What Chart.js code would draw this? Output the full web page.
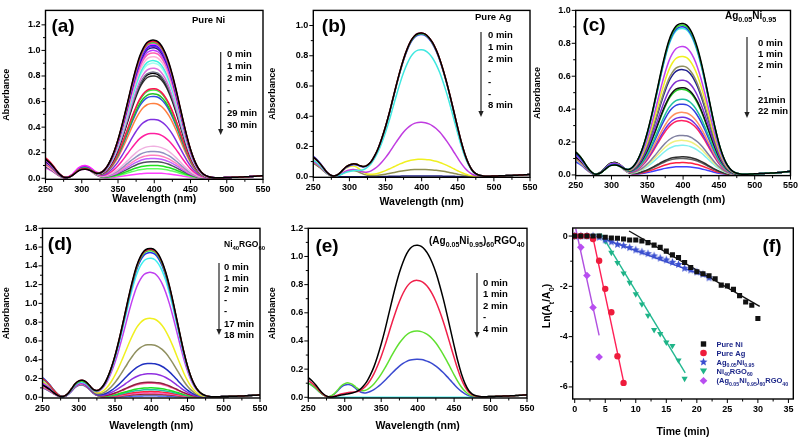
<!DOCTYPE html>
<html><head><meta charset="utf-8">
<script src="https://cdn.jsdelivr.net/npm/chart.js@4.4.1/dist/chart.umd.min.js"></script>
<style>
html,body{margin:0;padding:0;background:#fff;}
#wrap{position:relative;width:803px;height:440px;overflow:hidden;background:#fff;}
#wrap canvas{position:absolute;left:0;top:0;}
</style></head><body><div id="wrap">
<canvas id="ca" width="803" height="440"></canvas>
<canvas id="cb" width="803" height="440"></canvas>
<canvas id="cc" width="803" height="440"></canvas>
<canvas id="cd" width="803" height="440"></canvas>
<canvas id="ce" width="803" height="440"></canvas>
<canvas id="cf" width="803" height="440"></canvas>
</div>
<script>
// ---------------- data ----------------
const wavelengths = [250,255,260,265,270,275,280,285,290,295,300,305,310,315,320,325,330,335,340,345,350,355,360,365,370,375,380,385,390,395,400,405,410,415,420,425,430,435,440,445,450,455,460,465,470,475,480,485,490,495,500,505,510,515,520,525,530,535,540,545,550];
// normalized 400 nm band
const bandNarrow = [0,0,0,0,0,0,0,0,0,0,0,0,0.003,0.008,0.015,0.028,0.05,0.085,0.135,0.2,0.28,0.375,0.48,0.59,0.7,0.8,0.885,0.945,0.983,0.998,1.0,0.99,0.96,0.91,0.84,0.75,0.645,0.53,0.415,0.305,0.21,0.135,0.08,0.044,0.022,0.01,0.004,0.001,0,0,0,0,0,0,0,0,0,0,0,0,0];
const bandWide = [0,0,0,0,0,0,0,0,0,0,0,0.005,0.012,0.024,0.042,0.068,0.1,0.145,0.2,0.27,0.35,0.44,0.54,0.64,0.735,0.82,0.89,0.945,0.98,0.997,1.0,0.992,0.97,0.935,0.885,0.82,0.74,0.65,0.55,0.445,0.34,0.24,0.155,0.09,0.045,0.02,0.008,0.003,0,0,0,0,0,0,0,0,0,0,0,0,0];
const edgeShape = [1,0.84,0.64,0.4,0.19,0.06,0.01,0,0,0,0,0,0,0,0,0,0,0,0,0,0,0,0,0,0,0,0,0,0,0,0,0,0,0,0,0,0,0,0,0,0,0,0,0,0,0,0,0,0,0,0,0,0,0,0,0,0,0,0,0,0];
const bumpShape = [0,0,0,0,0,0,0.06,0.22,0.5,0.8,0.97,1.0,0.88,0.62,0.34,0.15,0.06,0.02,0.005,0,0,0,0,0,0,0,0,0,0,0,0,0,0,0,0,0,0,0,0,0,0,0,0,0,0,0,0,0,0,0,0,0,0,0,0,0,0,0,0,0,0];
const tailShape = [0,0,0,0,0,0,0,0,0,0,0,0,0,0,0,0,0,0,0,0,0,0,0,0,0,0,0,0,0,0,0,0,0,0,0,0,0,0,0,0,0,0,0,0,0,0.05,0.1,0.15,0.2,0.25,0.3,0.35,0.4,0.45,0.5,0.55,0.62,0.7,0.8,0.9,1.0];

// (a) Pure Ni, 0..30 min
const peaksA = [1.08,1.07,1.06,1.05,1.04,1.03,1.02,1.0,0.98,0.95,0.92,0.9,0.86,0.83,0.82,0.8,0.7,0.69,0.66,0.64,0.585,0.46,0.35,0.25,0.21,0.18,0.155,0.13,0.1,0.075,0.04];
const edgeA = [0.15,0.16,0.15,0.14,0.15,0.14,0.13,0.15,0.14,0.13,0.14,0.13,0.12,0.15,0.13,0.14,0.12,0.13,0.12,0.12,0.11,0.12,0.11,0.1,0.11,0.1,0.1,0.09,0.1,0.09,0.08];
const bumpA = [0.07,0.075,0.08,0.1,0.08,0.09,0.075,0.085,0.08,0.08,0.085,0.08,0.09,0.075,0.08,0.08,0.085,0.09,0.085,0.09,0.08,0.085,0.09,0.09,0.085,0.08,0.09,0.085,0.08,0.075,0.07];
const colorsA = ['#000000','#ff1040','#30e030','#ff20ff','#2020ff','#8020d0','#101080','#c040ff','#ff60b0','#ffb0d8','#40f0e0','#a0fff0','#e070e0','#707088','#000000','#303030','#ff1050','#40e840','#20c020','#3050e0','#ff8040','#8030e0','#ff20a0','#f0b0e0','#9090c0','#ff80c0','#c060ff','#505060','#20e020','#60ff60','#ff40ff'];
const tailA = 0.02;

// (b) Pure Ag, 0..8 min
const peaksB = [0.95,0.95,0.945,0.94,0.84,0.36,0.115,0.048,0.005];
const edgeB = [0.13,0.13,0.13,0.135,0.11,0.1,0.1,0.09,0.09];
const bumpB = [0.08,0.08,0.08,0.075,0.035,0.045,0.07,0.04,0.0];
const colorsB = ['#000000','#ff1040','#30e030','#2020ff','#40e8e0','#c03ce0','#f0f020','#909050','#202080'];
const tailB = 0.015;

// (c) Ag0.05Ni0.95, 0..22 min
const peaksC = [0.92,0.91,0.9,0.89,0.78,0.72,0.66,0.64,0.575,0.53,0.52,0.46,0.43,0.38,0.35,0.33,0.24,0.21,0.18,0.11,0.1,0.075,0.05];
const edgeC = [0.14,0.14,0.13,0.13,0.12,0.13,0.12,0.12,0.12,0.11,0.12,0.11,0.11,0.1,0.11,0.1,0.1,0.1,0.09,0.1,0.09,0.09,0.08];
const bumpC = [0.06,0.06,0.065,0.06,0.07,0.07,0.065,0.07,0.07,0.075,0.07,0.075,0.07,0.075,0.07,0.07,0.07,0.065,0.07,0.075,0.07,0.07,0.065];
const colorsC = ['#000000','#30e030','#2030f0','#40f0e0','#c040f0','#f0f020','#909060','#202090','#8030d0','#101010','#20d020','#20c0a0','#3040e0','#ff9060','#7030e0','#ff2060','#8080a0','#f0f080','#80f0f0','#303030','#606060','#ff2040','#4040ff'];
const tailC = 0.022;

// (d) Ni40RGO60, 0..18 min
const peaksD = [1.585,1.575,1.56,1.54,1.48,1.33,0.84,0.56,0.36,0.25,0.16,0.15,0.1,0.08,0.06,0.045,0.035,0.025,0.015];
const edgeD = [0.13,0.2,0.2,0.21,0.19,0.15,0.17,0.16,0.14,0.15,0.13,0.12,0.13,0.12,0.12,0.11,0.11,0.1,0.1];
const bumpD = [0.18,0.18,0.17,0.17,0.16,0.15,0.17,0.16,0.15,0.15,0.15,0.14,0.15,0.14,0.14,0.15,0.14,0.13,0.13];
const colorsD = ['#000000','#e02040','#30e030','#2030f0','#40f0f0','#c040f0','#f0f020','#909060','#2030c0','#9030e0','#902040','#ff60a0','#20e020','#20c0a0','#ff2040','#ff60c0','#a02020','#8080a0','#3050ff'];
const tailD = 0.025;

// (e) (Ag0.05Ni0.95)60RGO40, 0..4 min
const peaksE = [1.08,0.83,0.47,0.27,0.0];
const edgeE = [0.14,0.12,0.1,0.1,0.1];
const bumpE = [0.02,0.03,0.1,0.09,0.0];
const colorsE = ['#000000','#f0204a','#60e030','#3a4ad0','#40f0f0'];
const tailE = 0.018;

// tick values
const wlTicks = [250,300,350,400,450,500,550];
const wlMinor = [275,325,375,425,475,525];
const yTicksA = [0,0.2,0.4,0.6,0.8,1.0,1.2];
const yMinorA = [0.1,0.3,0.5,0.7,0.9,1.1];
const yTicksB = [0,0.2,0.4,0.6,0.8,1.0];
const yMinorB = [0.1,0.3,0.5,0.7,0.9];
const yTicksD = [0,0.2,0.4,0.6,0.8,1.0,1.2,1.4,1.6,1.8];
const yMinorD = [0.1,0.3,0.5,0.7,0.9,1.1,1.3,1.5,1.7];

// (f) kinetics ln(At/A0) vs time
const timeNi = [0,1,2,3,4,5,6,7,8,9,10,11,12,13,14,15,16,17,18,19,20,21,22,23,24,25,26,27,28,29,30];
const lnNi = [0,0,0,0,0,-0.05,-0.08,-0.09,-0.12,-0.16,-0.16,-0.2,-0.26,-0.36,-0.45,-0.6,-0.75,-0.85,-1.05,-1.25,-1.42,-1.5,-1.58,-1.7,-1.95,-1.98,-2.12,-2.37,-2.62,-2.75,-3.28];
const timeAg = [0,1,2,3,4,5,6,7,8];
const lnAg = [0,0,0,-0.12,-0.98,-2.1,-3.03,-4.78,-5.84];
const timeAgNi = [0,1,2,3,4,5,6,7,8,9,10,11,12,13,14,15,16,17,18,19,20,21,22];
const lnAgNi = [0,0,0,0,-0.05,-0.15,-0.23,-0.33,-0.38,-0.46,-0.55,-0.63,-0.7,-0.79,-0.88,-0.95,-1.04,-1.13,-1.28,-1.35,-1.43,-1.52,-1.66];
const timeNiRgo = [0,1,2,3,4,5,6,7,8,9,10,11,12,13,14,15,16,17,18];
const lnNiRgo = [0,0,0,0,0.02,-0.2,-0.66,-1.06,-1.48,-1.85,-2.31,-2.71,-3.16,-3.73,-3.89,-4.23,-4.36,-4.94,-5.67];
const timeAgNiRgo = [0,1,2,3,4];
const lnAgNiRgo = [0,-0.45,-1.57,-2.84,-4.81];
// linear fits (end points)
const fitNiT = [8.9,30.3], fitNiY = [0.2,-2.8];
const fitAgT = [2.9,8.1], fitAgY = [0.04,-5.9];
const fitAgNiT = [4.5,22.4], fitAgNiY = [-0.09,-1.68];
const fitNiRgoT = [4.3,18.1], fitNiRgoY = [0.1,-5.44];
const fitAgNiRgoT = [0.16,4.0], fitAgNiRgoY = [0.3,-3.95];
const timeTicks = [0,5,10,15,20,25,30,35];
const timeMinor = [2.5,7.5,12.5,17.5,22.5,27.5,32.5];
const lnTicks = [-6,-4,-2,0];
const lnMinor = [-5,-3,-1];

// ---------------- drawing helpers ----------------
const FONT = '"Liberation Sans", Arial, Helvetica, sans-serif';
const W = 803, H = 440;

function richWidth(ctx, segs, size, subK){
  let w = 0;
  segs.forEach(s => { ctx.font = 'bold ' + (s[1] ? size*subK : size) + 'px ' + FONT; w += ctx.measureText(s[0]).width; });
  return w;
}
function drawRich(ctx, segs, x, y, size, color, subK){
  subK = subK || 0.7;
  ctx.fillStyle = color; ctx.textAlign = 'left'; ctx.textBaseline = 'alphabetic';
  let cx = x; const base = y + size*0.36;
  segs.forEach(s => {
    ctx.font = 'bold ' + (s[1] ? size*subK : size) + 'px ' + FONT;
    ctx.fillText(s[0], cx, base + (s[1] ? size*0.32 : 0));
    cx += ctx.measureText(s[0]).width;
  });
}
function makeStar(r, color){
  const c = document.createElement('canvas'); const s = Math.ceil(r*2+2);
  c.width = s; c.height = s; const g = c.getContext('2d');
  g.fillStyle = color; g.beginPath();
  for (let k = 0; k < 10; k++){ const ang = -Math.PI/2 + k*Math.PI/5; const rr = (k%2) ? r*0.45 : r; g.lineTo(s/2 + rr*Math.cos(ang), s/2 + rr*Math.sin(ang)); }
  g.closePath(); g.fill(); return c;
}
function drawMarker(ctx, kind, x, y, color){
  ctx.fillStyle = color; ctx.beginPath();
  if (kind === 'square'){ ctx.rect(x-2.7, y-2.7, 5.4, 5.4); }
  else if (kind === 'circle'){ ctx.arc(x, y, 3.3, 0, Math.PI*2); }
  else if (kind === 'star'){ for (let k=0;k<10;k++){ const a=-Math.PI/2+k*Math.PI/5; const rr=(k%2)?1.9:4.2; ctx.lineTo(x+rr*Math.cos(a), y+rr*Math.sin(a)); } ctx.closePath(); }
  else if (kind === 'tri'){ ctx.moveTo(x-3.6, y-2.6); ctx.lineTo(x+3.6, y-2.6); ctx.lineTo(x, y+3.6); ctx.closePath(); }
  else if (kind === 'diamond'){ ctx.moveTo(x, y-3.8); ctx.lineTo(x+3.8, y); ctx.lineTo(x, y+3.8); ctx.lineTo(x-3.8, y); ctx.closePath(); }
  ctx.fill();
}

function makeDeco(cfg){
  return { id: 'deco', afterDraw(chart){
    const ctx = chart.ctx, a = chart.chartArea, xs = chart.scales.x, ys = chart.scales.y;
    ctx.save();
    ctx.strokeStyle = '#000'; ctx.lineWidth = 1.4;
    ctx.strokeRect(a.left, a.top, a.right - a.left, a.bottom - a.top);
    ctx.lineWidth = 1; ctx.beginPath();
    cfg.xMajor.forEach(v => { const p = xs.getPixelForValue(v); ctx.moveTo(p, a.bottom); ctx.lineTo(p, a.bottom + 4); });
    cfg.xMinor.forEach(v => { const p = xs.getPixelForValue(v); ctx.moveTo(p, a.bottom); ctx.lineTo(p, a.bottom + 2.5); });
    cfg.yMajor.forEach(v => { const p = ys.getPixelForValue(v); ctx.moveTo(a.left - 4, p); ctx.lineTo(a.left, p); });
    cfg.yMinor.forEach(v => { const p = ys.getPixelForValue(v); ctx.moveTo(a.left - 2.5, p); ctx.lineTo(a.left, p); });
    ctx.stroke();
    if (cfg.label){
      ctx.fillStyle = '#000'; ctx.font = 'bold 19px ' + FONT; ctx.textAlign = 'center'; ctx.textBaseline = 'middle';
      ctx.fillText(cfg.label.text, cfg.label.x, cfg.label.y);
    }
    if (cfg.sample) drawRich(ctx, cfg.sample.segs, cfg.sample.x, cfg.sample.y, cfg.sample.size, '#000', cfg.sample.subK);
    if (cfg.times){
      const t = cfg.times;
      ctx.strokeStyle = '#222'; ctx.lineWidth = 1.2; ctx.beginPath();
      ctx.moveTo(t.ax, t.y1); ctx.lineTo(t.ax, t.y2 - 5); ctx.stroke();
      ctx.fillStyle = '#222'; ctx.beginPath();
      ctx.moveTo(t.ax - 2.6, t.y2 - 6); ctx.lineTo(t.ax + 2.6, t.y2 - 6); ctx.lineTo(t.ax, t.y2); ctx.closePath(); ctx.fill();
      ctx.fillStyle = '#000'; ctx.font = 'bold 9.5px ' + FONT; ctx.textAlign = 'left'; ctx.textBaseline = 'middle';
      t.items.forEach(it => ctx.fillText(it[0], t.x, it[1]));
    }
    if (cfg.legend){
      const L = cfg.legend;
      L.rows.forEach(r => {
        drawMarker(ctx, r.kind, L.mx, r.y, r.color);
        drawRich(ctx, r.segs, L.tx, r.y, 7.5, '#1c2688', 0.7);
      });
    }
    if (cfg.yTitle){
      const Y = cfg.yTitle;
      const w = richWidth(ctx, Y.segs, Y.size, 0.7);
      ctx.translate(Y.x, Y.y); ctx.rotate(-Math.PI/2);
      drawRich(ctx, Y.segs, -w/2, 0, Y.size, '#000', 0.7);
    }
    ctx.restore();
  }};
}

function specDatasets(band, peaks, edges, bumps, colors, tailAmp){
  return peaks.map((p, k) => ({
    data: wavelengths.map((w, i) => ({ x: w, y: p*band[i] + edges[k]*edgeShape[i] + bumps[k]*bumpShape[i] + tailAmp*tailShape[i] })),
    borderColor: colors[k], backgroundColor: colors[k], borderWidth: 1.5, pointRadius: 0, tension: 0.35, fill: false
  }));
}

const tickFont = { family: FONT, size: 9, weight: 'bold' };

function buildSpectra(id, G, datasets, yMin, yMax, yMajor, yMinor, deco){
  const yTF = 9, xTF = 10.5;
  const padL = G.yTitleX - yTF*0.6;
  const xBottom = G.xTitleY + xTF*0.6;
  deco.xMajor = wlTicks; deco.xMinor = wlMinor; deco.yMajor = yMajor; deco.yMinor = yMinor;
  return new Chart(document.getElementById(id), {
    type: 'line',
    data: { datasets },
    options: {
      responsive: false, animation: false, events: [],
      layout: { padding: { left: padL, top: G.t, right: W - G.r, bottom: H - xBottom } },
      plugins: { legend: { display: false }, tooltip: { enabled: false } },
      scales: {
        x: { type: 'linear', min: 250, max: 550,
          afterBuildTicks: s => { s.ticks = wlTicks.map(v => ({ value: v })); },
          afterFit: s => { s.height = xBottom - G.b; },
          grid: { display: false, drawTicks: false }, border: { display: false },
          ticks: { padding: 5, color: '#000', font: tickFont, maxRotation: 0, autoSkip: false, callback: v => String(v) },
          title: { display: true, text: 'Wavelength (nm)', color: '#000', font: { family: FONT, size: xTF, weight: 'bold' }, padding: 0 } },
        y: { type: 'linear', min: yMin, max: yMax,
          afterBuildTicks: s => { s.ticks = yMajor.map(v => ({ value: v })); },
          afterFit: s => { s.width = G.l - padL; },
          grid: { display: false, drawTicks: false }, border: { display: false },
          ticks: { padding: 5, color: '#000', font: tickFont, autoSkip: false, callback: v => Number(v).toFixed(1) },
          title: { display: true, text: 'Absorbance', color: '#000', font: { family: FONT, size: yTF, weight: 'bold' }, padding: 0 } }
      }
    },
    plugins: [makeDeco(deco)]
  });
}

// ---------------- panels ----------------
buildSpectra('ca', { l: 45.5, t: 8, r: 263, b: 179.3, yTitleX: 7, xTitleY: 199 },
  specDatasets(bandNarrow, peaksA, edgeA, bumpA, colorsA, tailA), -0.008, 1.313, yTicksA, yMinorA,
  { label: { text: '(a)', x: 63, y: 27 },
    sample: { segs: [['Pure Ni', 0]], x: 192, y: 20, size: 9.5 },
    times: { ax: 220.7, y1: 52, y2: 135, x: 227, items: [['0 min',54],['1 min',66],['2 min',78],['-',90],['-',102],['29 min',113],['30 min',125]] } });

buildSpectra('cb', { l: 313.3, t: 8, r: 530, b: 177.3, yTitleX: 272.3, xTitleY: 201.7 },
  specDatasets(bandWide, peaksB, edgeB, bumpB, colorsB, tailB), -0.004, 1.1, yTicksB, yMinorB,
  { label: { text: '(b)', x: 334, y: 26.5 },
    sample: { segs: [['Pure Ag', 0]], x: 475, y: 17, size: 9.5 },
    times: { ax: 481, y1: 32, y2: 117, x: 488, items: [['0 min',35],['1 min',47],['2 min',59],['-',71],['-',82],['-',94],['8 min',105]] } });

buildSpectra('cc', { l: 575.7, t: 5.8, r: 793, b: 175.6, yTitleX: 537.3, xTitleY: 200 },
  specDatasets(bandNarrow, peaksC, edgeC, bumpC, colorsC, tailC), -0.004, 1.0, yTicksB, yMinorB,
  { label: { text: '(c)', x: 594, y: 26 },
    sample: { segs: [['Ag', 0], ['0.05', 1], ['Ni', 0], ['0.95', 1]], x: 725, y: 15, size: 10, subK: 0.72 },
    times: { ax: 747, y1: 37, y2: 118, x: 758, items: [['0 min',43],['1 min',54],['2 min',65.3],['-',76.7],['-',89],['21min',100],['22 min',111.7]] } });

buildSpectra('cd', { l: 42.5, t: 228.3, r: 260, b: 398, yTitleX: 6.7, xTitleY: 425.7 },
  specDatasets(bandNarrow, peaksD, edgeD, bumpD, colorsD, tailD), -0.008, 1.8, yTicksD, yMinorD,
  { label: { text: '(d)', x: 60, y: 245 },
    sample: { segs: [['Ni', 0], ['40', 1], ['RGO', 0], ['60', 1]], x: 224, y: 244, size: 8.5, subK: 0.7 },
    times: { ax: 219, y1: 263, y2: 335, x: 224, items: [['0 min',267],['1 min',278],['2 min',289],['-',300],['-',311],['17 min',324],['18 min',335]] } });

buildSpectra('ce', { l: 308.3, t: 228.3, r: 527, b: 398, yTitleX: 272.3, xTitleY: 425.7 },
  specDatasets(bandWide, peaksE, edgeE, bumpE, colorsE, tailE), -0.005, 1.2, yTicksA, [0.1,0.3,0.5,0.7,0.9,1.1],
  { label: { text: '(e)', x: 327, y: 247 },
    sample: { segs: [['(Ag', 0], ['0.05', 1], ['Ni', 0], ['0.95', 1], [')', 0], ['60', 1], ['RGO', 0], ['40', 1]], x: 429, y: 240, size: 10, subK: 0.7 },
    times: { ax: 477, y1: 273, y2: 338, x: 483, items: [['0 min',283],['1 min',294],['2 min',306],['-',317],['4 min',329]] } });

// (f)
(function(){
  const G = { l: 572.7, t: 228, r: 793.3, b: 399, xTitleY: 432.3 };
  const xTF = 10.5;
  const xBottom = G.xTitleY + xTF*0.6;
  const padL = 540;
  const pts = (t, y) => t.map((v, i) => ({ x: v, y: y[i] }));
  const star = makeStar(4.2, '#3a4fd0');
  const deco = {
    xMajor: timeTicks, xMinor: timeMinor, yMajor: lnTicks, yMinor: lnMinor,
    label: { text: '(f)', x: 772, y: 247 },
    yTitle: { segs: [['Ln(A', 0], ['t', 1], ['/A', 0], ['0', 1], [')', 0]], x: 546.7, y: 306, size: 10.5 },
    legend: { mx: 703.5, tx: 716.5, rows: [
      { kind: 'square', color: '#111111', y: 344, segs: [['Pure Ni', 0]] },
      { kind: 'circle', color: '#ee1c3c', y: 353, segs: [['Pure Ag', 0]] },
      { kind: 'star', color: '#3a4fd0', y: 362, segs: [['Ag', 0], ['0.05', 1], ['Ni', 0], ['0.95', 1]] },
      { kind: 'tri', color: '#1fb488', y: 371, segs: [['Ni', 0], ['40', 1], ['RGO', 0], ['60', 1]] },
      { kind: 'diamond', color: '#b84ef0', y: 380.7, segs: [['(Ag', 0], ['0.05', 1], ['Ni', 0], ['0.95', 1], [')', 0], ['60', 1], ['RGO', 0], ['40', 1]] }
    ] }
  };
  const fit = (t, y, c) => ({ type: 'line', data: pts(t, y), showLine: true, borderColor: c, borderWidth: 1.4, pointRadius: 0, fill: false });
  new Chart(document.getElementById('cf'), {
    type: 'scatter',
    data: { datasets: [
      { data: pts(timeNi, lnNi), pointStyle: 'rect', pointRadius: 3.6, backgroundColor: '#111111', borderColor: '#111111', borderWidth: 0 },
      { data: pts(timeAg, lnAg), pointStyle: 'circle', pointRadius: 3.2, backgroundColor: '#ee1c3c', borderColor: '#ee1c3c', borderWidth: 0 },
      { data: pts(timeAgNi, lnAgNi), pointStyle: star, backgroundColor: '#3a4fd0', borderColor: '#3a4fd0' },
      { data: pts(timeNiRgo, lnNiRgo), pointStyle: 'triangle', rotation: 180, pointRadius: 3.6, backgroundColor: '#1fb488', borderColor: '#1fb488', borderWidth: 0 },
      { data: pts(timeAgNiRgo, lnAgNiRgo), pointStyle: 'rectRot', pointRadius: 3.8, backgroundColor: '#b84ef0', borderColor: '#b84ef0', borderWidth: 0 },
      fit(fitNiT, fitNiY, '#111111'),
      fit(fitAgT, fitAgY, '#ff1f55'),
      fit(fitAgNiT, fitAgNiY, '#3346c8'),
      fit(fitNiRgoT, fitNiRgoY, '#22b890'),
      fit(fitAgNiRgoT, fitAgNiRgoY, '#b050e0')
    ] },
    options: {
      responsive: false, animation: false, events: [],
      layout: { padding: { left: padL, top: G.t, right: W - G.r, bottom: H - xBottom } },
      plugins: { legend: { display: false }, tooltip: { enabled: false } },
      scales: {
        x: { type: 'linear', min: -0.33, max: 35.8,
          afterBuildTicks: s => { s.ticks = timeTicks.map(v => ({ value: v })); },
          afterFit: s => { s.height = xBottom - G.b; },
          grid: { display: false, drawTicks: false }, border: { display: false },
          ticks: { padding: 5, color: '#000', font: tickFont, maxRotation: 0, autoSkip: false, callback: v => String(v) },
          title: { display: true, text: 'Time (min)', color: '#000', font: { family: FONT, size: xTF, weight: 'bold' }, padding: 0 } },
        y: { type: 'linear', min: -6.48, max: 0.32,
          afterBuildTicks: s => { s.ticks = lnTicks.map(v => ({ value: v })); },
          afterFit: s => { s.width = G.l - padL; },
          grid: { display: false, drawTicks: false }, border: { display: false },
          ticks: { padding: 5, color: '#000', font: tickFont, autoSkip: false, callback: v => String(v) },
          title: { display: false } }
      }
    },
    plugins: [makeDeco(deco)]
  });
})();
</script>
</body></html>
